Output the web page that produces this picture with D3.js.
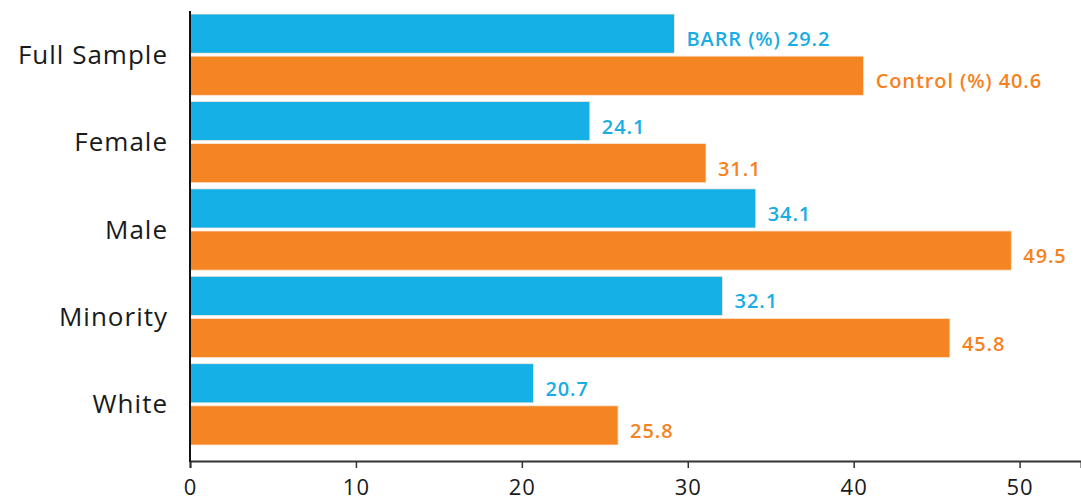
<!DOCTYPE html>
<html>
<head>
<meta charset="utf-8">
<script src="https://cdn.jsdelivr.net/npm/d3@7"></script>
<style>
  body { margin: 0; background: #fff; }
  text { font-family: "Open Sans", sans-serif; }
</style>
</head>
<body>
<div id="chart"></div>
<script>
const categories = ["Full Sample", "Female", "Male", "Minority", "White"];
const seriesNames = ["BARR", "Control"];
const barrValues = [29.2, 24.1, 34.1, 32.1, 20.7];
const controlValues = [40.6, 31.1, 49.5, 45.8, 25.8];
const xTicks = [0, 10, 20, 30, 40, 50];

const colors = { BARR: "#15b1e6", Control: "#f58423" };
const textColors = { BARR: "#18ade3", Control: "#f5821f" };

const width = 1081, height = 503;

const svg = d3.select("#chart")
  .append("svg")
  .attr("width", width)
  .attr("height", height);

/* scales */
const x = d3.scaleLinear().domain([0, 53.7]).range([190, 1081]);

const y = d3.scaleBand()
  .domain(categories)
  .range([14, 445])
  .paddingInner(0.07)
  .paddingOuter(0);

const ySub = d3.scaleBand()
  .domain(seriesNames)
  .range([0, y.bandwidth()])
  .paddingInner(0.07);

const rows = categories.map((c, i) => ({
  category: c,
  values: [
    { series: "BARR", value: barrValues[i] },
    { series: "Control", value: controlValues[i] }
  ]
}));

/* bars */
const group = svg.selectAll(".group")
  .data(rows)
  .enter()
  .append("g")
  .attr("class", "group")
  .attr("transform", d => `translate(0, ${y(d.category)})`);

group.selectAll("rect")
  .data(d => d.values)
  .enter()
  .append("rect")
  .attr("x", x(0))
  .attr("y", d => ySub(d.series))
  .attr("width", d => x(d.value) - x(0))
  .attr("height", ySub.bandwidth())
  .attr("fill", d => colors[d.series])
  .attr("stroke", "#fde9d9")
  .attr("stroke-width", 0.8);

/* value labels */
group.selectAll(".value")
  .data((d, i) => d.values.map(v => ({ ...v, first: i === 0 })))
  .enter()
  .append("text")
  .attr("class", "value")
  .attr("x", d => x(d.value) + 12)
  .attr("y", d => ySub(d.series) + ySub.bandwidth() - 7)
  .attr("fill", d => textColors[d.series])
  .attr("font-size", 20)
  .attr("font-weight", 600)
  .attr("letter-spacing", 0.9)
  .text(d => (d.first ? `${d.series} (%) ` : "") + d.value.toFixed(1));

/* category labels */
svg.selectAll(".cat")
  .data(categories)
  .enter()
  .append("text")
  .attr("class", "cat")
  .attr("x", 168)
  .attr("y", d => y(d) + y.bandwidth() / 2)
  .attr("dy", "0.35em")
  .attr("text-anchor", "end")
  .attr("font-size", 26)
  .attr("letter-spacing", 1)
  .attr("fill", "#1a1a1a")
  .text(d => d);

/* x axis */
const xAxis = svg.append("g")
  .attr("transform", "translate(0, 461)")
  .call(d3.axisBottom(x).tickValues(xTicks).tickSizeOuter(0).tickSize(7).tickPadding(11));

xAxis.select(".domain").attr("stroke", "#333").attr("stroke-width", 2);
xAxis.selectAll(".tick line").attr("stroke", "#333").attr("stroke-width", 1.5);
xAxis.selectAll(".tick text")
  .attr("font-size", 22)
  .attr("letter-spacing", 1)
  .attr("fill", "#1a1a1a")
  .attr("font-family", "'Open Sans', sans-serif");

/* y axis line */
svg.append("line")
  .attr("x1", x(0)).attr("x2", x(0))
  .attr("y1", 11).attr("y2", 462)
  .attr("stroke", "#111")
  .attr("stroke-width", 2);
</script>
</body>
</html>
